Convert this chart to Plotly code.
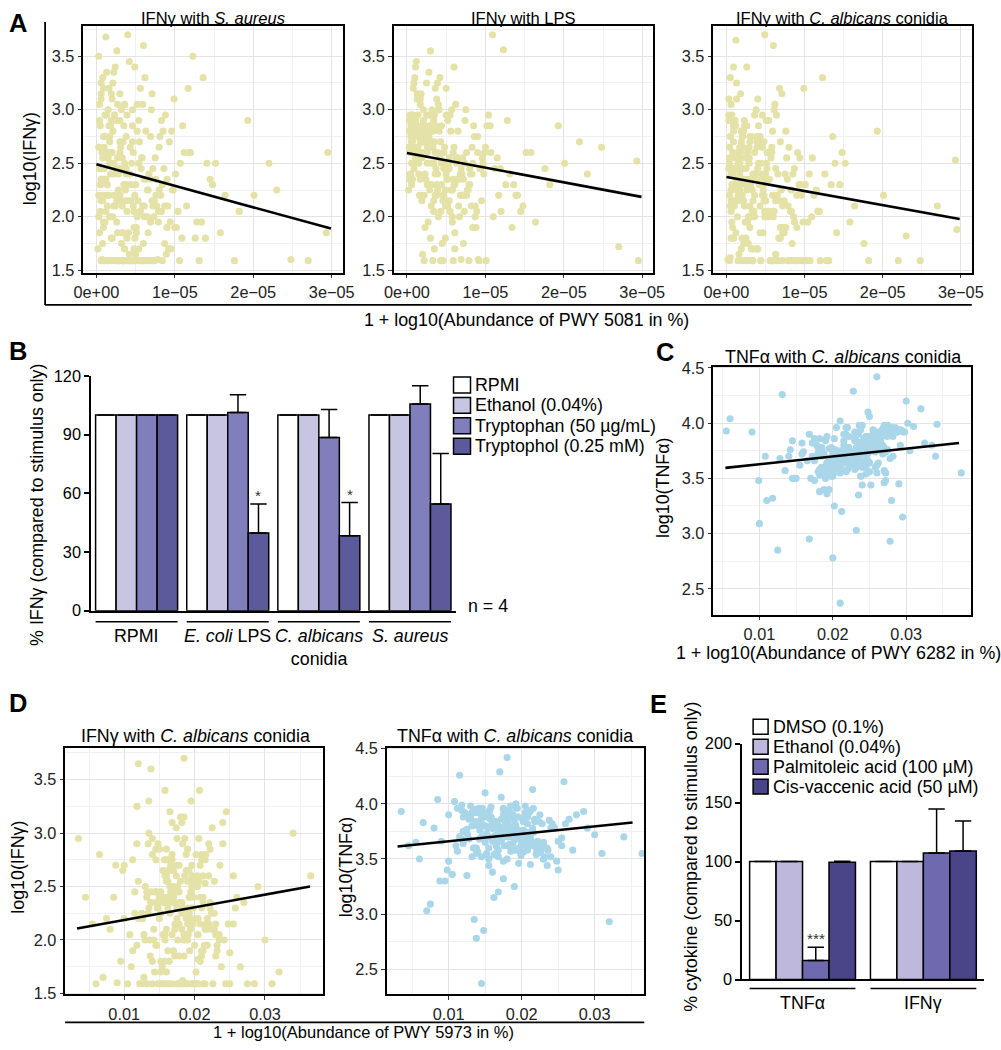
import plotly.graph_objects as go

W, H = 1001, 1050
FONT = "Liberation Sans, Arial, sans-serif"

# ---------------- data ----------------
# abundance of PWY 5081 (units of 1e-6 %), shared by the three panels in A
pwy5081_e6 = [
    0.3, 1.2, 2.5, 3.1, 0.8, 4.2, 5.6, 1.9, 2.2, 6.8,
    7.5, 0.5, 3.6, 8.9, 1.4, 2.8, 4.9, 9.6, 0.9, 3.3,
    5.1, 6.2, 1.7, 10.4, 2.0, 4.5, 7.1, 0.6, 3.9, 12.3,
    8.2, 1.1, 5.4, 2.6, 13.1, 6.5, 0.4, 9.2, 3.0, 4.0,
    15.2, 1.6, 7.8, 2.3, 5.9, 11.2, 0.7, 3.7, 6.0, 19.3,
    2.9, 8.6, 1.3, 4.7, 14.5, 0.2, 6.9, 3.4, 10.9, 5.2,
    1.8, 22.0, 4.3, 7.3, 2.1, 9.9, 0.9, 5.7, 3.2, 16.4,
    6.4, 1.5, 12.8, 2.7, 4.6, 8.0, 0.5, 3.8, 24.8, 5.0,
    1.0, 7.0, 2.4, 10.1, 4.1, 6.6, 13.6, 0.3, 3.5, 9.0,
    5.5, 1.9, 20.1, 2.8, 7.6, 4.8, 0.8, 11.7, 3.1, 6.1,
    1.2, 15.8, 4.4, 2.0, 8.4, 5.3, 0.6, 27.0, 3.6, 9.4,
    2.5, 6.7, 1.4, 12.0, 4.2, 7.9, 0.4, 3.0, 17.6, 5.8,
    1.7, 10.6, 2.2, 6.3, 4.9, 29.5, 0.7, 8.7, 3.3, 14.1,
    5.0, 1.1, 7.2, 2.6, 11.0, 4.0, 0.9, 23.0, 3.9, 6.0,
    1.5, 9.1, 2.9, 5.6, 13.4, 0.5, 4.6, 8.3, 29.3, 3.4,
    0.6, 2.3, 4.4, 1.3, 6.3, 3.5, 8.1, 0.9, 5.2, 2.7,
    7.7, 1.6, 3.8, 0.4, 9.3, 4.6, 2.0, 6.6, 1.0, 11.5,
    3.2, 5.8, 0.8, 2.6, 7.4, 1.8, 4.1, 10.0, 3.0, 0.5,
    6.9, 1.4, 4.8, 2.2, 8.8, 0.7, 5.4, 3.6, 12.6, 1.9,
    2.9, 7.2, 0.3, 4.3, 1.7, 9.7, 3.4, 5.9, 0.9, 18.2,
    4.7, 2.1, 6.1, 1.1, 3.9, 8.5, 0.6, 5.0, 2.5, 14.8,
    1.3, 3.4, 5.2, 0.7, 2.6, 7.1, 4.0, 1.9, 8.3, 3.0,
    6.0, 0.4, 2.2, 4.6, 9.0, 1.5, 3.7, 5.8, 0.8, 7.4,
    2.8, 4.9, 1.1, 6.5, 3.2, 0.5, 8.7, 2.0, 5.1, 10.7,
    0.9, 3.9, 6.8, 1.7, 4.4, 2.4, 7.9, 0.3, 5.5, 3.1,
    4.1, 1.4, 8.0, 2.9, 0.6, 5.9, 3.5, 9.5, 1.8, 6.3,
    2.3, 7.6, 0.9, 4.3, 3.0, 10.2, 1.2, 5.4, 2.7, 13.9,
    5.0, 0.7, 3.3, 6.9, 1.6, 4.7, 8.4, 2.1, 0.4, 3.8,
    7.2, 2.5, 4.8, 1.0, 9.8, 3.6, 0.6, 6.1, 2.0, 11.9,
]
ifng_saureus = [
    2.65, 3.68, 1.59, 2.15, 1.75, 3.45, 2.05, 3.15, 2.40, 1.59,
    2.55, 2.85, 3.05, 1.65, 2.30, 1.59, 3.40, 2.80, 3.20, 2.10,
    1.90, 3.30, 2.70, 2.05, 1.59, 2.50, 3.15, 2.35, 1.80, 3.50,
    2.20, 1.95, 2.90, 3.55, 1.59, 2.25, 3.05, 1.70, 2.60, 3.70,
    2.50, 2.20, 1.60, 2.95, 1.59, 2.60, 1.60, 2.15, 3.60, 2.90,
    2.45, 2.45, 3.35, 2.10, 2.35, 1.70, 2.75, 1.59, 1.80, 2.00,
    2.00, 2.50, 2.65, 2.00, 2.80, 3.10, 2.60, 2.45, 3.00, 2.20,
    1.59, 2.55, 1.95, 1.85, 2.85, 2.65, 2.30, 2.75, 1.60, 1.65,
    1.59, 3.00, 2.10, 2.40, 1.59, 1.85, 3.30, 2.00, 2.30, 2.35,
    2.70, 1.80, 2.20, 2.25, 2.35, 1.90, 2.15, 3.20, 2.45, 2.10,
    2.35, 1.85, 2.30, 2.60, 1.59, 2.15, 1.59, 1.59, 1.70, 1.95,
    2.90, 2.40, 2.10, 2.60, 1.65, 2.05, 2.90, 2.20, 1.59, 2.55,
    2.00, 1.59, 2.50, 2.80, 2.20, 2.60, 2.45, 1.75, 1.85, 2.50,
    2.30, 2.75, 2.45, 1.59, 2.85, 2.15, 1.90, 2.25, 2.95, 1.75,
    1.59, 2.10, 1.59, 3.20, 1.95, 2.05, 1.59, 2.90, 1.85, 2.70,
    3.10, 2.20, 1.59, 2.95, 2.35, 1.59, 2.75, 1.95, 3.05, 2.55,
    2.10, 3.20, 2.45, 1.85, 2.70, 3.00, 1.59, 2.25, 2.65, 2.10,
    1.75, 2.55, 3.30, 2.15, 1.59, 2.85, 2.40, 1.90, 3.15, 2.45,
    2.35, 1.59, 2.05, 3.35, 2.95, 2.60, 1.70, 2.50, 1.80, 2.90,
    2.15, 1.59, 3.50, 2.40, 2.75, 2.25, 1.85, 3.05, 2.20, 2.05,
    2.60, 3.25, 2.00, 1.59, 2.30, 2.80, 2.15, 1.59, 2.45, 2.30,
    2.20, 1.59, 2.80, 2.35, 1.95, 2.15, 1.59, 2.60, 2.05, 2.90,
    1.59, 2.45, 2.10, 2.70, 1.90, 3.00, 2.25, 1.59, 2.55, 2.15,
    2.40, 1.80, 2.95, 2.00, 1.59, 2.30, 2.10, 3.10, 1.85, 2.50,
    2.75, 2.05, 1.59, 2.50, 2.15, 3.40, 1.95, 2.20, 1.59, 2.65,
    1.85, 2.60, 2.25, 1.59, 3.25, 2.10, 2.85, 1.70, 2.40, 2.00,
    2.95, 2.20, 2.35, 1.59, 2.70, 1.90, 2.05, 2.50, 3.05, 1.80,
    1.59, 2.15, 2.55, 1.95, 2.85, 1.59, 2.30, 2.00, 2.65, 2.40,
    2.10, 2.90, 1.70, 2.45, 2.25, 1.59, 3.15, 2.35, 1.80, 2.60,
]
ifng_lps = [
    2.80, 3.45, 2.60, 2.10, 2.95, 3.30, 2.25, 2.70, 1.59, 2.40,
    3.00, 2.75, 2.20, 2.05, 2.65, 3.35, 1.80, 2.55, 2.85, 1.59,
    2.45, 3.05, 2.35, 2.95, 2.70, 1.75, 2.55, 2.30, 3.25, 3.56,
    2.10, 2.90, 2.15, 2.50, 2.40, 2.80, 2.65, 1.59, 3.55, 2.00,
    2.60, 2.20, 2.25, 1.90, 2.60, 2.45, 2.75, 2.85, 3.40, 2.85,
    2.30, 2.75, 3.10, 2.45, 2.05, 2.25, 1.60, 2.15, 3.70, 2.90,
    2.55, 2.70, 1.59, 2.05, 2.90, 2.60, 2.45, 3.00, 2.70, 1.95,
    2.35, 2.50, 2.90, 1.95, 2.60, 2.30, 2.65, 2.20, 2.65, 3.20,
    2.85, 2.40, 2.35, 1.59, 2.80, 2.10, 2.30, 2.35, 1.70, 2.75,
    2.95, 2.15, 2.50, 2.75, 2.20, 2.65, 2.90, 2.20, 2.30, 1.85,
    2.60, 2.60, 2.85, 1.65, 1.90, 2.50, 2.70, 1.72, 2.40, 2.45,
    3.25, 2.00, 2.80, 2.05, 2.55, 1.59, 2.40, 2.95, 2.45, 2.25,
    2.70, 2.85, 2.20, 2.35, 2.10, 1.59, 2.60, 2.00, 2.80, 2.20,
    2.15, 2.55, 1.75, 2.30, 2.00, 3.00, 2.50, 2.40, 2.60, 2.65,
    2.40, 1.60, 2.95, 2.80, 1.90, 2.65, 2.20, 2.65, 2.52, 2.05,
    2.70, 2.85, 2.30, 3.15, 2.55, 2.95, 2.40, 2.65, 2.10, 2.75,
    2.25, 2.60, 3.10, 2.90, 2.45, 1.59, 2.80, 2.35, 3.30, 2.55,
    2.50, 2.00, 2.75, 2.60, 2.90, 2.20, 3.00, 2.65, 1.80, 2.85,
    2.40, 2.95, 2.15, 2.80, 1.90, 2.70, 2.55, 3.20, 2.30, 2.60,
    2.85, 2.35, 2.65, 2.05, 3.05, 2.50, 2.90, 1.59, 2.75, 2.30,
    2.60, 2.80, 1.70, 3.40, 2.25, 2.85, 2.50, 2.40, 2.95, 2.10,
    2.75, 2.50, 2.35, 2.90, 2.65, 2.20, 3.05, 2.55, 2.40, 2.80,
    2.30, 2.95, 2.70, 2.15, 2.60, 2.85, 2.45, 1.95, 3.20, 2.50,
    2.65, 2.25, 2.80, 2.55, 3.00, 2.40, 2.10, 2.75, 2.35, 2.60,
    2.85, 2.40, 2.20, 3.10, 2.50, 2.70, 2.30, 2.90, 2.05, 2.65,
    2.55, 2.80, 2.45, 2.25, 2.95, 2.35, 2.70, 2.15, 3.15, 2.50,
    2.40, 2.60, 3.25, 2.70, 2.30, 2.85, 2.55, 2.45, 2.75, 2.20,
    2.95, 2.35, 2.65, 2.45, 2.80, 2.20, 2.50, 3.00, 2.60, 2.30,
    2.20, 2.75, 2.50, 2.85, 2.40, 2.60, 2.90, 2.30, 2.70, 2.45,
]
ifng_conidia = [
    2.95, 3.65, 1.59, 2.30, 1.90, 2.70, 1.59, 2.80, 2.15, 3.20,
    2.40, 3.30, 2.00, 1.59, 2.60, 1.75, 3.70, 2.20, 2.85, 1.59,
    2.50, 3.05, 2.25, 1.95, 1.59, 2.35, 3.15, 1.80, 2.75, 3.30,
    2.05, 2.45, 2.90, 3.40, 1.59, 2.20, 2.65, 1.59, 2.10, 3.10,
    2.50, 1.65, 2.35, 2.90, 1.59, 2.20, 2.25, 2.40, 3.60, 2.80,
    2.55, 2.00, 3.25, 1.85, 2.30, 1.60, 2.70, 2.15, 2.00, 2.45,
    2.30, 1.59, 2.10, 1.90, 2.45, 3.20, 2.80, 2.55, 1.70, 2.10,
    2.95, 2.20, 1.59, 2.60, 2.40, 2.65, 1.62, 2.35, 1.59, 2.05,
    2.10, 2.25, 1.95, 2.30, 2.85, 1.59, 2.75, 2.45, 2.05, 1.90,
    2.60, 2.70, 2.20, 2.00, 2.80, 2.15, 2.40, 2.05, 1.59, 3.00,
    1.85, 1.95, 2.50, 2.75, 1.75, 2.35, 2.15, 2.10, 2.20, 2.55,
    2.45, 1.80, 2.00, 1.59, 2.30, 1.59, 2.55, 1.90, 1.75, 2.60,
    2.65, 2.40, 2.35, 1.65, 2.05, 1.88, 1.95, 2.45, 2.25, 1.85,
    2.15, 2.90, 1.85, 2.25, 2.55, 1.70, 2.10, 1.82, 2.70, 2.00,
    2.50, 2.60, 2.35, 1.59, 2.30, 2.75, 2.20, 2.05, 2.53, 2.40,
    2.25, 2.85, 1.59, 3.10, 2.45, 2.05, 1.59, 2.70, 2.35, 1.95,
    2.55, 2.15, 3.00, 1.59, 2.30, 2.65, 1.80, 2.40, 2.90, 2.25,
    2.00, 1.59, 2.60, 2.35, 2.15, 3.15, 2.50, 1.59, 2.75, 2.10,
    1.90, 2.45, 2.20, 2.80, 1.59, 2.30, 2.05, 2.95, 2.40, 1.70,
    2.65, 2.10, 2.90, 1.85, 2.50, 1.59, 2.35, 2.20, 3.40, 1.59,
    2.30, 2.75, 2.05, 2.55, 1.70, 2.40, 3.05, 2.15, 1.80, 2.60,
    2.35, 1.59, 2.60, 2.10, 2.85, 1.90, 2.45, 1.59, 2.25, 2.70,
    2.05, 2.50, 1.75, 2.95, 2.20, 1.59, 2.40, 2.65, 2.15, 1.85,
    2.55, 2.00, 2.30, 1.59, 2.75, 2.45, 1.95, 2.20, 2.90, 1.59,
    1.80, 2.65, 2.15, 2.40, 1.59, 2.55, 2.10, 3.10, 2.35, 2.00,
    2.70, 2.25, 1.59, 2.50, 2.05, 2.80, 1.70, 2.30, 2.60, 2.15,
    2.10, 1.90, 2.45, 2.75, 2.35, 1.59, 2.85, 2.00, 1.59, 2.50,
    2.40, 2.95, 2.05, 1.80, 2.55, 2.25, 1.59, 2.65, 2.20, 2.35,
    1.59, 2.30, 2.70, 2.15, 1.95, 2.60, 2.40, 1.59, 2.80, 2.05,
]
tnf_conidia = [
    3.93, 3.75, 3.60, 3.85, 3.70, 3.48, 3.95, 3.80, 3.65, 3.55,
    4.04, 3.72, 3.88, 3.40, 3.78, 3.62, 3.98, 3.68, 3.82, 3.50,
    3.74, 3.90, 3.35, 3.66, 4.10, 3.58, 3.84, 3.30, 3.76, 3.92,
    3.64, 4.26, 3.52, 3.86, 3.70, 3.09, 3.80, 3.45, 3.96, 3.62,
    3.78, 3.68, 3.90, 3.55, 3.36, 4.00, 3.73, 3.82, 3.60, 3.87,
    3.70, 3.44, 3.94, 3.76, 2.85, 3.66, 3.58, 4.06, 3.72, 3.80,
    3.88, 3.50, 3.64, 3.96, 3.32, 3.78, 3.83, 3.25, 3.68, 4.13,
    3.56, 3.74, 3.92, 3.62, 4.29, 3.40, 3.86, 3.70, 3.55, 3.98,
    3.78, 3.62, 3.84, 2.95, 3.68, 3.90, 3.52, 3.75, 4.02, 3.60,
    3.88, 3.46, 3.72, 3.82, 3.20, 3.65, 3.94, 3.57, 3.80, 3.70,
    3.66, 3.99, 3.76, 3.38, 3.86, 2.78, 3.72, 3.63, 3.90, 4.42,
    3.54, 3.82, 3.68, 3.93, 3.48, 3.77, 3.60, 3.15, 3.85, 3.55,
    3.74, 3.92, 3.58, 3.03, 3.80, 3.66, 2.37, 3.88, 3.70, 3.62,
    3.84, 3.70, 3.50, 3.96, 3.64, 2.93, 3.78, 3.74, 3.30, 3.86,
    3.72, 3.60, 3.82, 3.68, 4.20, 3.57, 3.90, 3.44, 3.78, 3.62,
    3.80, 3.65, 3.92, 3.58, 3.74, 3.86, 3.62, 3.96, 3.70, 3.52,
    3.84, 3.72, 3.60, 3.90, 3.66, 3.78, 3.55, 3.88, 3.68, 3.76,
    3.62, 3.94, 3.70, 3.82, 3.48, 3.75, 3.98, 3.64, 3.86, 3.58,
    3.76, 3.56, 3.88, 3.68, 3.80, 3.92, 3.60, 3.72, 3.54, 3.84,
    3.70, 3.85, 3.63, 3.95, 3.58, 3.79, 3.67, 3.90, 3.73, 3.50,
    3.92, 3.66, 3.82, 3.60, 3.76, 3.53, 3.87, 3.69, 3.97, 3.74,
    3.72, 3.88, 3.60, 3.80, 3.66, 3.94, 3.55, 3.76, 3.84, 3.64,
    3.90, 3.58, 3.78, 3.70, 3.86, 3.52, 3.96, 3.68, 3.74, 3.82,
    3.62, 3.80, 3.92, 3.56, 3.74, 3.88, 3.66, 3.98, 3.60, 3.76,
    3.84, 3.68, 3.54, 3.90, 3.72, 3.62, 3.86, 3.78, 3.94, 3.58,
    3.76, 3.92, 3.64, 3.82, 3.50, 3.74, 3.88, 3.60, 3.70, 3.96,
    3.58, 3.74, 3.86, 3.66, 3.94, 3.78, 3.62, 3.84, 3.56, 3.72,
    3.88, 3.60, 3.76, 3.92, 3.68, 3.82, 3.54, 3.70, 3.90, 3.64,
    3.70, 3.84, 3.58, 3.78, 3.96, 3.66, 3.80, 3.52, 3.74, 3.88,
]
pwy6282 = [
    0.0055, 0.0210, 0.0245, 0.0190, 0.0225, 0.0099, 0.0268, 0.0178, 0.0232, 0.0260,
    0.0060, 0.0200, 0.0250, 0.0195, 0.0185, 0.0240, 0.0275, 0.0215, 0.0172, 0.0148,
    0.0228, 0.0255, 0.0235, 0.0165, 0.0248, 0.0205, 0.0190, 0.0280, 0.0142, 0.0298,
    0.0212, 0.0131, 0.0238, 0.0182, 0.0108, 0.0100, 0.0262, 0.0290, 0.0220, 0.0155,
    0.0198, 0.0228, 0.0168, 0.0272, 0.0192, 0.0302, 0.0180, 0.0158, 0.0240, 0.0230,
    0.0140, 0.0252, 0.0288, 0.0215, 0.0125, 0.0245, 0.0200, 0.0250, 0.0188, 0.0292,
    0.0222, 0.0150, 0.0262, 0.0205, 0.0118, 0.0270, 0.0235, 0.0202, 0.0195, 0.0320,
    0.0250, 0.0160, 0.0265, 0.0225, 0.0228, 0.0188, 0.0175, 0.0282, 0.0210, 0.0240,
    0.0232, 0.0208, 0.0145, 0.0168, 0.0278, 0.0218, 0.0198, 0.0305, 0.0210, 0.0258,
    0.0192, 0.0270, 0.0182, 0.0242, 0.0212, 0.0225, 0.0255, 0.0135, 0.0335, 0.0172,
    0.0248, 0.0342, 0.0203, 0.0182, 0.0262, 0.0200, 0.0158, 0.0230, 0.0215, 0.0260,
    0.0245, 0.0325, 0.0128, 0.0295, 0.0272, 0.0195, 0.0232, 0.0295, 0.0250, 0.0375,
    0.0205, 0.0090, 0.0220, 0.0232, 0.0245, 0.0175, 0.0210, 0.0265, 0.0185, 0.0238,
    0.0230, 0.0340, 0.0145, 0.0218, 0.0192, 0.0278, 0.0252, 0.0215, 0.0110, 0.0202,
    0.0268, 0.0185, 0.0240, 0.0225, 0.0300, 0.0270, 0.0235, 0.0240, 0.0180, 0.0222,
    0.0215, 0.0195, 0.0262, 0.0230, 0.0185, 0.0248, 0.0205, 0.0272, 0.0178, 0.0238,
    0.0252, 0.0222, 0.0190, 0.0282, 0.0212, 0.0240, 0.0198, 0.0266, 0.0228, 0.0185,
    0.0202, 0.0290, 0.0235, 0.0258, 0.0175, 0.0220, 0.0270, 0.0192, 0.0245, 0.0210,
    0.0232, 0.0180, 0.0256, 0.0215, 0.0268, 0.0296, 0.0200, 0.0242, 0.0188, 0.0262,
    0.0226, 0.0252, 0.0195, 0.0280, 0.0208, 0.0236, 0.0218, 0.0276, 0.0248, 0.0170,
    0.0288, 0.0212, 0.0244, 0.0196, 0.0258, 0.0182, 0.0230, 0.0205, 0.0310, 0.0225,
    0.0208, 0.0245, 0.0188, 0.0262, 0.0225, 0.0238, 0.0195, 0.0275, 0.0215, 0.0250,
    0.0232, 0.0182, 0.0268, 0.0210, 0.0248, 0.0200, 0.0285, 0.0222, 0.0258, 0.0240,
    0.0192, 0.0255, 0.0230, 0.0218, 0.0272, 0.0245, 0.0205, 0.0236, 0.0185, 0.0265,
    0.0250, 0.0212, 0.0198, 0.0278, 0.0228, 0.0260, 0.0242, 0.0220, 0.0292, 0.0205,
    0.0238, 0.0268, 0.0215, 0.0252, 0.0190, 0.0230, 0.0282, 0.0202, 0.0246, 0.0270,
    0.0212, 0.0235, 0.0258, 0.0196, 0.0276, 0.0222, 0.0244, 0.0265, 0.0206, 0.0228,
    0.0262, 0.0200, 0.0240, 0.0288, 0.0218, 0.0256, 0.0194, 0.0234, 0.0270, 0.0214,
    0.0226, 0.0264, 0.0208, 0.0248, 0.0280, 0.0238, 0.0252, 0.0198, 0.0232, 0.0274,
]
pwy5973 = [
    0.0035, 0.0120, 0.0155, 0.0190, 0.0210, 0.0100, 0.0175, 0.0140, 0.0230, 0.0165,
    0.0085, 0.0195, 0.0130, 0.0250, 0.0160, 0.0110, 0.0185, 0.0205, 0.0145, 0.0060,
    0.0170, 0.0225, 0.0125, 0.0200, 0.0150, 0.0270, 0.0180, 0.0095, 0.0215, 0.0135,
    0.0188, 0.0115, 0.0240, 0.0158, 0.0198, 0.0075, 0.0168, 0.0212, 0.0142, 0.0182,
    0.0290, 0.0128, 0.0178, 0.0220, 0.0105, 0.0192, 0.0152, 0.0260, 0.0138, 0.0202,
    0.0162, 0.0235, 0.0118, 0.0185, 0.0148, 0.0090, 0.0208, 0.0172, 0.0300, 0.0132,
    0.0195, 0.0155, 0.0228, 0.0112, 0.0175, 0.0245, 0.0065, 0.0190, 0.0160, 0.0215,
    0.0140, 0.0200, 0.0122, 0.0255, 0.0170, 0.0098, 0.0183, 0.0150, 0.0310, 0.0205,
    0.0080, 0.0165, 0.0218, 0.0135, 0.0190, 0.0275, 0.0145, 0.0178, 0.0108, 0.0232,
    0.0158, 0.0196, 0.0126, 0.0242, 0.0168, 0.0055, 0.0212, 0.0185, 0.0150, 0.0340,
    0.0172, 0.0118, 0.0203, 0.0160, 0.0265, 0.0138, 0.0190, 0.0225, 0.0100, 0.0180,
    0.0152, 0.0208, 0.0142, 0.0285, 0.0175, 0.0125, 0.0198, 0.0162, 0.0238, 0.0365,
    0.0188, 0.0132, 0.0222, 0.0070, 0.0168, 0.0250, 0.0145, 0.0195, 0.0115, 0.0210,
    0.0178, 0.0148, 0.0230, 0.0192, 0.0120, 0.0320, 0.0160, 0.0205, 0.0088, 0.0185,
    0.0165, 0.0220, 0.0138, 0.0200, 0.0258, 0.0112, 0.0175, 0.0155, 0.0215, 0.0045,
    0.0182, 0.0150, 0.0205, 0.0168, 0.0195, 0.0128, 0.0215, 0.0175, 0.0145, 0.0232,
    0.0160, 0.0198, 0.0135, 0.0188, 0.0222, 0.0170, 0.0152, 0.0208, 0.0118, 0.0192,
    0.0176, 0.0140, 0.0212, 0.0163, 0.0248, 0.0185, 0.0130, 0.0200, 0.0157, 0.0226,
    0.0193, 0.0166, 0.0120, 0.0210, 0.0178, 0.0147, 0.0235, 0.0186, 0.0162, 0.0202,
    0.0155, 0.0218, 0.0183, 0.0137, 0.0196, 0.0244, 0.0172, 0.0126, 0.0207, 0.0180,
    0.0210, 0.0163, 0.0191, 0.0228, 0.0143, 0.0199, 0.0174, 0.0255, 0.0158, 0.0186,
    0.0170, 0.0148, 0.0196, 0.0182, 0.0160, 0.0212, 0.0138, 0.0190, 0.0224, 0.0166,
    0.0186, 0.0204, 0.0154, 0.0175, 0.0218, 0.0132, 0.0194, 0.0162, 0.0208, 0.0178,
    0.0200, 0.0158, 0.0184, 0.0226, 0.0168, 0.0146, 0.0214, 0.0188, 0.0134, 0.0196,
    0.0164, 0.0192, 0.0220, 0.0150, 0.0180, 0.0206, 0.0172, 0.0240, 0.0156, 0.0190,
    0.0178, 0.0134, 0.0202, 0.0166, 0.0230, 0.0188, 0.0152, 0.0198, 0.0174, 0.0216,
    0.0194, 0.0170, 0.0144, 0.0210, 0.0182, 0.0160, 0.0222, 0.0136, 0.0202, 0.0176,
    0.0156, 0.0206, 0.0186, 0.0140, 0.0198, 0.0228, 0.0164, 0.0190, 0.0150, 0.0212,
    0.0182, 0.0162, 0.0236, 0.0176, 0.0146, 0.0204, 0.0192, 0.0168, 0.0216, 0.0158,
]

# regression lines: ([x0, x1], [y0, y1])
fit_a_saureus = ([0.0, 2.99e-5], [2.49, 1.89])
fit_a_lps = ([0.0, 2.99e-5], [2.596, 2.186])
fit_a_conidia = ([0.0, 2.985e-5], [2.372, 1.98])
fit_c_tnf = ([0.00537, 0.0372], [3.595, 3.82])
fit_d_ifng = ([0.0033, 0.0364], [2.107, 2.50])
fit_d_tnf = ([0.0030, 0.0352], [3.613, 3.83])

# panel B
b_group_labels = ["RPMI", "<i>E. coli</i> LPS", "<i>C. albicans</i><br>conidia", "<i>S. aureus</i>"]
b_treatments = ["RPMI", "Ethanol (0.04%)", "Tryptophan (50 µg/mL)", "Tryptophol (0.25 mM)"]
b_values = [
    [100, 100, 100, 100],
    [100, 100, 100, 100],
    [100, 101.3, 88.5, 105.7],
    [100, 39.7, 38.3, 54.5],
]
b_errors = [
    [0, 0, 0, 0],
    [0, 0, 0, 0],
    [0, 9.0, 14.3, 9.2],
    [0, 14.8, 17.0, 25.8],
]
b_signif = [["", "", "", ""], ["", "", "", ""], ["", "", "", ""], ["", "*", "*", ""]]
b_colors = ["#ffffff", "#c8c5e3", "#807ebb", "#5c5a9b"]

# panel E
e_group_labels = ["TNFα", "IFNγ"]
e_treatments = ["DMSO (0.1%)", "Ethanol (0.04%)", "Palmitoleic acid (100 µM)", "Cis-vaccenic acid (50 µM)"]
e_values = [[100, 100], [100, 100], [16.1, 107.3], [99.5, 109.0]]
e_errors = [[0, 0], [0, 0], [11.3, 37.3], [0.8, 25.5]]
e_signif = [["", ""], ["", ""], ["***", ""], ["", ""]]
e_colors = ["#ffffff", "#bdb8dc", "#6f6aaf", "#4a4488"]

YELLOW = "#e4e2a6"
BLUE = "#a9d6e8"

# The viewer shows the page inside an 8 px frame and shrinks it slightly;
# positions below are written in target-picture pixels and mapped here.
SX, SY, OFF = 0.9804, 0.9835, 8
FS = 1 / SX
TICK = 16 * FS
TXT = 17.5 * FS


# ---------------- helpers ----------------
def fx(v):
    return v / SX - OFF


def fy(v):
    return v / SY - OFF


def px_x(v):
    return fx(v) / W


def px_y(v):
    return 1 - fy(v) / H


def dom_x(a, b):
    return [px_x(a), px_x(b)]


def dom_y(top, bottom):
    return [px_y(bottom), px_y(top)]


def scatter_axes(xd, yd, xr, yr, xt, xtt, xm, yt, ytt, ym, anchor_x, anchor_y):
    common = dict(showline=True, mirror=True, linecolor="black", linewidth=1.8,
                  ticks="outside", ticklen=3.6, tickwidth=1.2, tickcolor="#333",
                  tickfont=dict(size=TICK, color="#222"), showgrid=True,
                  gridcolor="#e3e3e3", gridwidth=1.3, zeroline=False,
                  tickmode="array", autorange=False)
    xa = dict(common, domain=xd, range=xr, tickvals=xt, ticktext=xtt, anchor=anchor_y,
              minor=dict(tickmode="array", tickvals=xm, showgrid=True,
                         gridcolor="#f0f0f0", gridwidth=0.8, ticks=""))
    ya = dict(common, domain=yd, range=yr, tickvals=yt, ticktext=ytt, anchor=anchor_x,
              minor=dict(tickmode="array", tickvals=ym, showgrid=True,
                         gridcolor="#f0f0f0", gridwidth=0.8, ticks=""))
    return xa, ya


fig = go.Figure()
annotations = []
shapes = []


def ann(text, x, y, size=TXT, bold=False, angle=0, xanchor="center", yanchor="middle",
        raw_x=None, raw_y=None, **kw):
    if bold:
        text = "<b>" + text + "</b>"
    xp = raw_x / W if raw_x is not None else px_x(x)
    yp = 1 - raw_y / H if raw_y is not None else px_y(y)
    d = dict(text=text, x=xp, y=yp, xref="paper", yref="paper",
             showarrow=False, textangle=angle, xanchor=xanchor, yanchor=yanchor,
             borderpad=0, borderwidth=0,
             font=dict(family=FONT, size=size, color="black"))
    d.update(kw)
    annotations.append(d)


def line_px(x0, y0, x1, y1, w=1.5):
    shapes.append(dict(type="line", xref="paper", yref="paper",
                       x0=px_x(x0), y0=px_y(y0), x1=px_x(x1), y1=px_y(y1),
                       line=dict(color="black", width=w)))


def add_scatter(x, y, fit, color, ax):
    fig.add_trace(go.Scatter(x=x, y=y, mode="markers", xaxis="x" + ax, yaxis="y" + ax,
                             marker=dict(size=7.1, color=color), showlegend=False,
                             hoverinfo="skip"))
    fig.add_trace(go.Scatter(x=fit[0], y=fit[1], mode="lines", xaxis="x" + ax, yaxis="y" + ax,
                             line=dict(color="black", width=2.6), showlegend=False))


# ---------------- panel A ----------------
pwy5081 = [v * 1e-6 for v in pwy5081_e6]
a_xt = [0, 1e-5, 2e-5, 3e-5]
a_xtt = ["0e+00", "1e−05", "2e−05", "3e−05"]
a_xm = [0.5e-5, 1.5e-5, 2.5e-5]
ifn_yt = [1.5, 2.0, 2.5, 3.0, 3.5]
ifn_ytt = ["1.5", "2.0", "2.5", "3.0", "3.5"]
ifn_ym = [1.75, 2.25, 2.75, 3.25, 3.75]
tnf_yt = [2.5, 3.0, 3.5, 4.0, 4.5]
tnf_ytt = ["2.5", "3.0", "3.5", "4.0", "4.5"]
tnf_ym = [2.75, 3.25, 3.75, 4.25]
pwy_xt = [0.01, 0.02, 0.03]
pwy_xtt = ["0.01", "0.02", "0.03"]
pwy_xm = [0.005, 0.015, 0.025, 0.035]

layout_axes = {}
a_panels = [("", 82, 342, ifng_saureus, fit_a_saureus, "IFNγ with <i>S. aureus</i>"),
            ("2", 393, 653, ifng_lps, fit_a_lps, "IFNγ with LPS"),
            ("3", 713, 972, ifng_conidia, fit_a_conidia, "IFNγ with <i>C. albicans</i> conidia")]
for ax, x0, x1, yv, fit, title in a_panels:
    xa, ya = scatter_axes(dom_x(x0, x1), dom_y(24.5, 272), [-1.7e-6, 3.14e-5], [1.475, 3.786],
                          a_xt, a_xtt, a_xm, ifn_yt, ifn_ytt, ifn_ym, "x" + ax, "y" + ax)
    layout_axes["xaxis" + ax] = xa
    layout_axes["yaxis" + ax] = ya
    add_scatter(pwy5081, yv, fit, YELLOW, ax)
    ann(title, (x0 + x1) / 2, 0, size=16.5, yanchor="top", raw_y=0.5)

ann("A", 0, 0, size=25 * FS, bold=True, xanchor="left", yanchor="top", raw_x=0.5, raw_y=0.5)
ann("log10(IFNγ)", 29, 158, angle=-90)
ann("1 + log10(Abundance of PWY 5081 in %)", 526, 319)
line_px(44, 21, 44, 304, 1.8)
line_px(44, 304, 972, 304, 1.8)

# ---------------- panel C ----------------
xa, ya = scatter_axes(dom_x(713, 971), dom_y(366, 614), [0.0037, 0.0388], [2.265, 4.51],
                      pwy_xt, pwy_xtt, pwy_xm, tnf_yt, tnf_ytt, tnf_ym, "x5", "y5")
layout_axes["xaxis5"] = xa
layout_axes["yaxis5"] = ya
add_scatter(pwy6282, tnf_conidia, fit_c_tnf, BLUE, "5")
ann("C", 665, 351, size=25 * FS, bold=True)
ann("TNFα with <i>C. albicans</i> conidia", 843, 356)
ann("log10(TNFα)", 663, 487, angle=-90)
ann("1 + log10(Abundance of PWY 6282 in %)", 839, 652)

# ---------------- panel D ----------------
xa, ya = scatter_axes(dom_x(64, 322), dom_y(747, 994), [0.0016, 0.0382], [1.49, 3.80],
                      pwy_xt, pwy_xtt, pwy_xm, ifn_yt, ifn_ytt, ifn_ym, "x6", "y6")
layout_axes["xaxis6"] = xa
layout_axes["yaxis6"] = ya
add_scatter(pwy5973, ifng_conidia, fit_d_ifng, YELLOW, "6")
xa, ya = scatter_axes(dom_x(386, 644), dom_y(747, 994), [0.0015, 0.0368], [2.27, 4.51],
                      pwy_xt, pwy_xtt, pwy_xm, tnf_yt, tnf_ytt, tnf_ym, "x7", "y7")
layout_axes["xaxis7"] = xa
layout_axes["yaxis7"] = ya
add_scatter(pwy5973, tnf_conidia, fit_d_tnf, BLUE, "7")
ann("D", 0, 702, size=25 * FS, bold=True, xanchor="left", raw_x=0.5)
ann("IFNγ with <i>C. albicans</i> conidia", 195, 735)
ann("TNFα with <i>C. albicans</i> conidia", 515, 735)
ann("log10(IFNγ)", 16, 867, angle=-90)
ann("log10(TNFα)", 345, 867, angle=-90)
ann("1 + log10(Abundance of PWY 5973 in %)", 363, 0, size=16.5, yanchor="bottom", raw_y=H - 0.5)
line_px(64, 1022, 644, 1022, 1.8)


# ---------------- bar panels ----------------
def bar_panel(ax, labels, treatments, values, errors, signif, colors, gwidth):
    n = len(treatments)
    bw = gwidth / n
    for b in range(n):
        off = -gwidth / 2 + b * bw
        fig.add_trace(go.Bar(
            x=list(range(len(labels))), y=values[b], xaxis="x" + ax, yaxis="y" + ax,
            offset=off, width=bw, name=treatments[b], showlegend=False,
            marker=dict(color=colors[b], line=dict(color="black", width=1.5)),
            error_y=dict(type="data", symmetric=False, array=errors[b],
                         arrayminus=[0] * len(labels), color="black", thickness=1.5, width=8.2)))
        for g, s in enumerate(signif[b]):
            if s:
                annotations.append(dict(text=s, x=g + off + bw / 2, y=values[b][g] + errors[b][g],
                                        xref="x" + ax, yref="y" + ax, showarrow=False,
                                        yanchor="bottom", yshift=-2,
                                        font=dict(family=FONT, size=15 * FS, color="#333")))


# panel B
bar_panel("4", b_group_labels, b_treatments, b_values, b_errors, b_signif, b_colors, 0.9)
layout_axes["xaxis4"] = dict(domain=dom_x(90, 455), range=[-0.5, 3.5], anchor="y4",
                             showline=True, linecolor="black", linewidth=1.6,
                             showticklabels=False, ticks="", showgrid=False, zeroline=False)
layout_axes["yaxis4"] = dict(domain=dom_y(375, 610), range=[0, 120], anchor="x4",
                             showline=True, linecolor="black", linewidth=1.6,
                             tickmode="array", tickvals=[0, 30, 60, 90, 120],
                             ticks="outside", ticklen=5, tickwidth=1.5, tickcolor="black",
                             tickfont=dict(size=TICK, color="black"), showgrid=False, zeroline=False)
for g, lab in enumerate(b_group_labels):
    shapes.append(dict(type="line", xref="x4", yref="paper", x0=g - 0.45, x1=g + 0.45,
                       y0=px_y(621), y1=px_y(621), line=dict(color="black", width=1.5)))
    annotations.append(dict(text=lab, x=g, y=px_y(623), xref="x4", yref="paper",
                            showarrow=False, yanchor="top",
                            font=dict(family=FONT, size=TXT, color="black")))
ann("B", 0, 350, size=25 * FS, bold=True, xanchor="left", raw_x=0.5)
ann("% IFNγ (compared to stimulus only)", 36, 504, angle=-90)
ann("n = 4", 488, 605)
for i, name in enumerate(b_treatments):
    cy = 384 + i * 20.5
    shapes.append(dict(type="rect", xref="paper", yref="paper",
                       x0=px_x(453), x1=px_x(470), y0=px_y(cy + 8), y1=px_y(cy - 8),
                       fillcolor=b_colors[i], line=dict(color="black", width=1.5)))
    ann(name, 474, cy, xanchor="left")

# panel E
bar_panel("8", e_group_labels, e_treatments, e_values, e_errors, e_signif, e_colors, 0.876)
layout_axes["xaxis8"] = dict(domain=dom_x(742, 984), range=[-0.5, 1.5], anchor="y8",
                             showline=True, linecolor="black", linewidth=1.6,
                             showticklabels=False, ticks="", showgrid=False, zeroline=False)
layout_axes["yaxis8"] = dict(domain=dom_y(743, 979), range=[0, 200], anchor="x8",
                             showline=True, linecolor="black", linewidth=1.6,
                             tickmode="array", tickvals=[0, 50, 100, 150, 200],
                             ticks="outside", ticklen=5, tickwidth=1.5, tickcolor="black",
                             tickfont=dict(size=TICK, color="black"), showgrid=False, zeroline=False)
for g, lab in enumerate(e_group_labels):
    shapes.append(dict(type="line", xref="x8", yref="paper", x0=g - 0.438, x1=g + 0.438,
                       y0=px_y(988), y1=px_y(988), line=dict(color="black", width=1.5)))
    annotations.append(dict(text=lab, x=g, y=px_y(1003), xref="x8", yref="paper",
                            showarrow=False, yanchor="middle",
                            font=dict(family=FONT, size=TXT, color="black")))
ann("E", 658, 703, size=25 * FS, bold=True)
ann("% cytokine (compared to stimulus only)", 690, 856, angle=-90)
for i, name in enumerate(e_treatments):
    cy = 726 + i * 20
    shapes.append(dict(type="rect", xref="paper", yref="paper",
                       x0=px_x(753), x1=px_x(768), y0=px_y(cy + 7.5), y1=px_y(cy - 7.5),
                       fillcolor=e_colors[i], line=dict(color="black", width=1.5)))
    ann(name, 773, cy, xanchor="left")

fig.update_layout(
    width=W, height=H, margin=dict(l=0, r=0, t=0, b=0),
    paper_bgcolor="white", plot_bgcolor="white",
    font=dict(family=FONT, size=15, color="black"),
    barmode="overlay", showlegend=False,
    annotations=annotations, shapes=shapes,
    **layout_axes,
)

fig.write_html("out.html", config={"displayModeBar": False},
               post_script="document.body.style.margin='0';"
                           "document.documentElement.style.overflow='hidden';")
